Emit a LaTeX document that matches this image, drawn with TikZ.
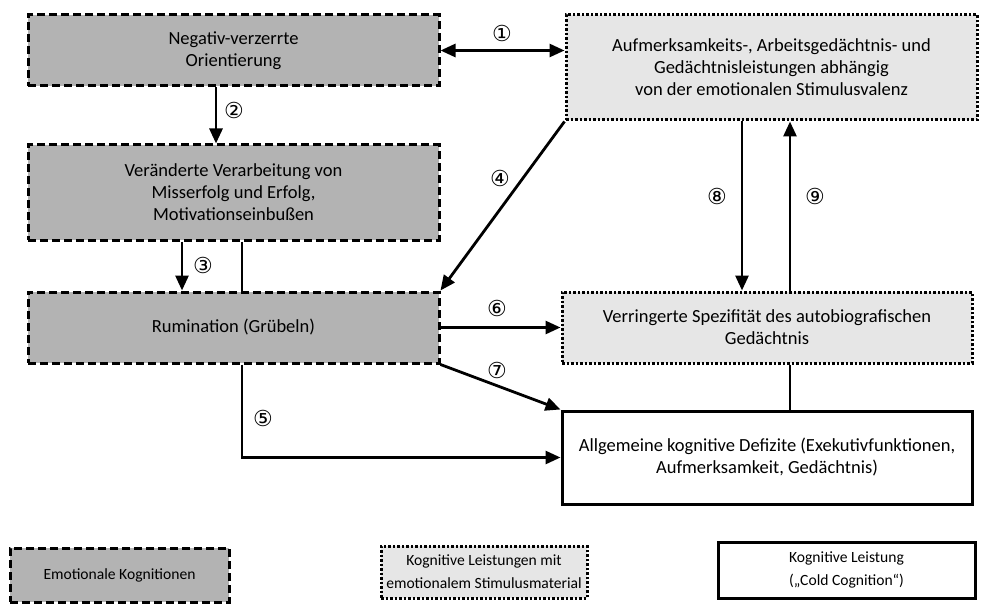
\documentclass[tikz,border=0pt]{standalone}
\usepackage{fontspec}
\setmainfont{Carlito}
\newfontfamily\circfont{DejaVu Sans}
\usetikzlibrary{arrows.meta,positioning}
\definecolor{emogray}{RGB}{179,179,179}
\definecolor{stimgray}{RGB}{230,230,230}

\begin{document}
\begin{tikzpicture}[x=1pt,y=-1pt,
  font=\fontsize{18.5}{22}\selectfont,
  emo/.style={draw,line width=3pt,dash pattern=on 8pt off 4pt,fill=emogray,
              align=center,inner sep=0pt},
  stim/.style={draw,line width=3pt,dash pattern=on 2.5pt off 2pt,fill=stimgray,
               align=center,inner sep=0pt},
  cold/.style={draw,line width=3pt,fill=white,align=center,inner sep=0pt},
  arr/.style={-{Triangle[length=15pt,width=13pt]},line width=2.8pt},
  link/.style={line width=2.8pt},
  num/.style={font=\circfont\fontsize{22}{22}\selectfont,inner sep=0pt},
  leg/.style={font=\fontsize{15.6}{23}\selectfont}]
  \useasboundingbox (0,0) rectangle (983,607);
  % left column
  \node[emo,minimum width=411pt,minimum height=71pt] (neg) at (233.5,50.5)
    {Negativ-verzerrte\\Orientierung};
  \node[emo,minimum width=411pt,minimum height=95pt] (verar) at (233.5,192.5)
    {Veränderte Verarbeitung von\\Misserfolg und Erfolg,\\Motivationseinbußen};
  \node[emo,minimum width=411pt,minimum height=71pt] (rum) at (233.5,327.5)
    {Rumination (Grübeln)};
  % right column
  \node[stim,minimum width=411pt,minimum height=105pt] (aufm) at (771.5,67.5)
    {Aufmerksamkeits-, Arbeitsgedächtnis- und\\Gedächtnisleistungen abhängig\\von der emotionalen Stimulusvalenz};
  \node[stim,minimum width=410pt,minimum height=71pt] (spez) at (767,327.5)
    {Verringerte Spezifität des autobiografischen\\Gedächtnis};
  \node[cold,minimum width=410pt,minimum height=93pt] (defiz) at (767,457.5)
    {Allgemeine kognitive Defizite (Exekutivfunktionen,\\Aufmerksamkeit, Gedächtnis)};
  % legend
  \node[emo,leg,minimum width=219pt,minimum height=54pt] (legemo) at (119.5,575)
    {Emotionale Kognitionen};
  \node[stim,leg,minimum width=206pt,minimum height=52pt] (legstim) at (484,572)
    {Kognitive Leistungen mit\\emotionalem Stimulusmaterial};
  \node[cold,leg,minimum width=257pt,minimum height=56pt] (legcold) at (846.5,570)
    {Kognitive Leistung\\(„Cold Cognition“)};

  % connectors
  \draw[arr,{Triangle[length=15pt,width=13pt]}-{Triangle[length=15pt,width=13pt]}]
    (neg.east) -- (neg.east -| aufm.west);
  \draw[arr] ([xshift=-17.5pt]neg.south) -- ([xshift=-17.5pt]verar.north);
  \draw[arr] ([xshift=-51.5pt]verar.south) -- ([xshift=-51.5pt]rum.north);
  \draw[link] ([xshift=8.5pt]verar.south) -- ([xshift=8.5pt]rum.north);
  \draw[arr] (aufm.south west) -- (rum.north east);
  \draw[arr] ([xshift=8.5pt]rum.south) |- (defiz.west);
  \draw[arr] (rum.east) -- (rum.east -| spez.west);
  \draw[arr] (rum.south east) -- (defiz.north west);
  \draw[arr] ([xshift=-29.5pt]aufm.south) -- ([xshift=-29.5pt]aufm.south |- spez.north);
  \draw[arr] ([xshift=18.5pt]aufm.south |- spez.north) -- ([xshift=18.5pt]aufm.south);
  \draw[link] ([xshift=23pt]spez.south) -- ([xshift=23pt]defiz.north);

  % numbers
  \node[num] (n1) at (502,33) {①};
  \node[num] (n2) at (234,110) {②};
  \node[num] (n3) at (203,265) {③};
  \node[num] (n4) at (500,178) {④};
  \node[num] (n5) at (263,418) {⑤};
  \node[num] (n6) at (497,308) {⑥};
  \node[num] (n7) at (497,370) {⑦};
  \node[num] (n8) at (717,196) {⑧};
  \node[num] (n9) at (815,196) {⑨};
\end{tikzpicture}
\end{document}
